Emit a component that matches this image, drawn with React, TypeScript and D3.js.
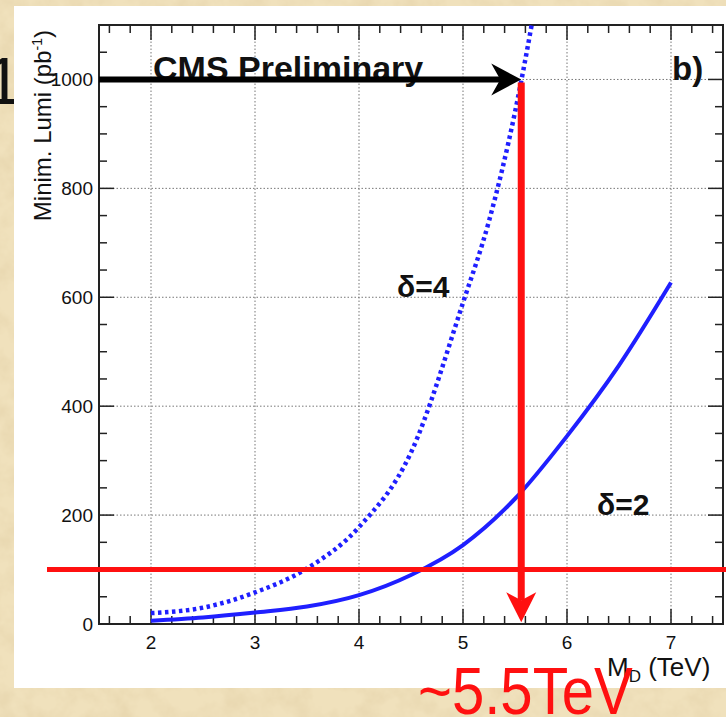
import { useEffect, useRef } from "react";
import * as d3 from "d3";

// delta=2 curve (solid) and delta=4 curve (dotted)
const massD2 = [2, 2.5, 3, 3.5, 4, 4.5, 5, 5.5, 6, 6.5, 7];
const lumiD2 = [6, 12, 21, 32, 53, 90, 145, 230, 345, 475, 627];
const massD4 = [2, 2.5, 3, 3.5, 4, 4.5, 5, 5.25, 5.5, 5.66, 5.75];
const lumiD4 = [20, 30, 58, 102, 178, 315, 590, 740, 940, 1100, 1200];

const xTicks = [2, 3, 4, 5, 6, 7];
const yTicks = [0, 200, 400, 600, 800, 1000];
const limitLumi = 100; // red horizontal line
const reachMass = 5.56; // red vertical arrow
const reachLumi = 1000;

const W = 726;
const H = 717;

const App = () => {
  const svgRef = useRef<SVGSVGElement | null>(null);

  useEffect(() => {
    const svg = d3.select(svgRef.current);
    svg.selectAll("*").remove();

    const x = d3.scaleLinear().domain([1.5, 7.5]).range([99, 723]);
    const y = d3.scaleLinear().domain([0, 1100]).range([624, 25]);
    const [x0, x1] = x.range();
    const [y0, y1] = y.range();
    const font = "'Liberation Sans', Arial, Helvetica, sans-serif";

    // parchment background
    const defs = svg.append("defs");
    const f = defs.append("filter").attr("id", "paper").attr("x", 0).attr("y", 0).attr("width", 1).attr("height", 1);
    f.append("feTurbulence").attr("type", "fractalNoise").attr("baseFrequency", 0.045).attr("numOctaves", 4).attr("seed", 7);
    f.append("feColorMatrix").attr("type", "matrix")
      .attr("values", "0 0 0 0 0.72  0 0 0 0 0.58  0 0 0 0 0.34  0.8 0 0 0 -0.3");
    defs.append("clipPath").attr("id", "plotclip")
      .append("rect").attr("x", x0).attr("y", y1).attr("width", x1 - x0).attr("height", y0 - y1);

    svg.append("rect").attr("width", W).attr("height", H).attr("fill", "#f0e1bc");
    svg.append("rect").attr("width", W).attr("height", H).attr("filter", "url(#paper)");

    // big "1" peeking out behind the panel
    svg.append("text").attr("x", -15).attr("y", 104).attr("font-family", font)
      .attr("font-size", 66).attr("fill", "#111").text("1");

    // white panel
    svg.append("rect").attr("x", 14).attr("y", 6).attr("width", W).attr("height", 682).attr("fill", "#fff");

    const g = svg.append("g");

    // grid
    xTicks.forEach((t) => {
      g.append("line").attr("x1", x(t)).attr("x2", x(t)).attr("y1", y0).attr("y2", y1)
        .attr("stroke", "#777").attr("stroke-width", 1).attr("stroke-dasharray", "1.5 2");
    });
    yTicks.filter((t) => t > 0).forEach((t) => {
      g.append("line").attr("x1", x0).attr("x2", x1).attr("y1", y(t)).attr("y2", y(t))
        .attr("stroke", "#777").attr("stroke-width", 1).attr("stroke-dasharray", "1.5 2");
    });

    // ticks on all four sides (ROOT style, pointing inwards)
    const xMinor = d3.range(1.6, 7.5, 0.2);
    xMinor.forEach((t) => {
      const major = Math.abs(t - Math.round(t)) < 1e-6;
      const len = major ? 15 : 8;
      g.append("line").attr("x1", x(t)).attr("x2", x(t)).attr("y1", y0).attr("y2", y0 - len)
        .attr("stroke", "#222").attr("stroke-width", 1.5);
      g.append("line").attr("x1", x(t)).attr("x2", x(t)).attr("y1", y1).attr("y2", y1 + len)
        .attr("stroke", "#222").attr("stroke-width", 1.5);
    });
    d3.range(50, 1100, 50).forEach((t) => {
      const major = t % 200 === 0;
      const len = major ? 15 : 8;
      g.append("line").attr("x1", x0).attr("x2", x0 + len).attr("y1", y(t)).attr("y2", y(t))
        .attr("stroke", "#222").attr("stroke-width", 1.5);
      g.append("line").attr("x1", x1).attr("x2", x1 - len).attr("y1", y(t)).attr("y2", y(t))
        .attr("stroke", "#222").attr("stroke-width", 1.5);
    });

    // frame
    g.append("rect").attr("x", x0).attr("y", y1).attr("width", x1 - x0).attr("height", y0 - y1)
      .attr("fill", "none").attr("stroke", "#222").attr("stroke-width", 2);

    // tick labels
    xTicks.forEach((t) => {
      g.append("text").attr("x", x(t)).attr("y", 649).attr("text-anchor", "middle")
        .attr("font-family", font).attr("font-size", 19).attr("fill", "#111").text(t);
    });
    yTicks.forEach((t) => {
      g.append("text").attr("x", 93).attr("y", y(t)).attr("dy", "0.36em").attr("text-anchor", "end")
        .attr("font-family", font).attr("font-size", 19).attr("fill", "#111").text(t);
    });

    // axis titles
    const yl = g.append("text").attr("transform", "translate(51,30) rotate(-90)").attr("text-anchor", "end")
      .attr("font-family", font).attr("font-size", 24).attr("fill", "#111");
    yl.append("tspan").text("Minim. Lumi (pb");
    yl.append("tspan").attr("dy", -9).attr("font-size", 14).text("-1");
    yl.append("tspan").attr("dy", 9).text(")");

    const xl = g.append("text").attr("x", 607).attr("y", 676).attr("font-family", font)
      .attr("font-size", 26).attr("fill", "#111");
    xl.append("tspan").text("M");
    xl.append("tspan").attr("dy", 6).attr("font-size", 17).text("D");
    xl.append("tspan").attr("dy", -6).text(" (TeV)");

    // curves
    const line = d3.line<number>().x((d) => x(d)).curve(d3.curveMonotoneX);
    const plot = g.append("g").attr("clip-path", "url(#plotclip)");
    plot.append("path")
      .attr("d", line.y((d, i) => y(lumiD4[i]))(massD4))
      .attr("fill", "none").attr("stroke", "#1f1fff").attr("stroke-width", 4.5)
      .attr("stroke-dasharray", "3.5 3.5");
    plot.append("path")
      .attr("d", line.y((d, i) => y(lumiD2[i]))(massD2))
      .attr("fill", "none").attr("stroke", "#1f1fff").attr("stroke-width", 4);

    // labels
    g.append("text").attr("x", 153).attr("y", 80).attr("font-family", font).attr("font-weight", "bold")
      .attr("font-size", 34).attr("fill", "#111").text("CMS Preliminary");
    g.append("text").attr("x", 672).attr("y", 80).attr("font-family", font).attr("font-weight", "bold")
      .attr("font-size", 33).attr("fill", "#111").text("b)");
    g.append("text").attr("x", 397).attr("y", y(600)).attr("font-family", font).attr("font-weight", "bold")
      .attr("font-size", 30).attr("fill", "#111").text("δ=4");
    g.append("text").attr("x", 597).attr("y", y(200)).attr("font-family", font).attr("font-weight", "bold")
      .attr("font-size", 30).attr("fill", "#111").text("δ=2");

    // red horizontal line at 100 pb^-1
    g.append("line").attr("x1", x(1.0)).attr("x2", W).attr("y1", y(limitLumi)).attr("y2", y(limitLumi))
      .attr("stroke", "#ff1010").attr("stroke-width", 5);

    // black arrow towards the 1000 pb^-1 point
    const tipX = x(reachMass);
    const tipY = y(reachLumi);
    g.append("line").attr("x1", x0).attr("x2", tipX - 20).attr("y1", tipY).attr("y2", tipY)
      .attr("stroke", "#000").attr("stroke-width", 6);
    g.append("path")
      .attr("d", `M${tipX},${tipY} L${tipX - 30},${tipY - 16} L${tipX - 21},${tipY} L${tipX - 30},${tipY + 16} Z`)
      .attr("fill", "#000");

    // red vertical arrow down to the mass axis
    const botY = y(3);
    g.append("line").attr("x1", tipX).attr("x2", tipX).attr("y1", tipY + 3).attr("y2", botY - 22)
      .attr("stroke", "#ff1010").attr("stroke-width", 7);
    g.append("path")
      .attr("d", `M${tipX},${botY} L${tipX - 15},${botY - 30} L${tipX},${botY - 22} L${tipX + 15},${botY - 30} Z`)
      .attr("fill", "#ff1010");

    // big red annotation, slightly condensed like the original
    svg.append("text").attr("transform", "translate(418,714) scale(0.88,1)").attr("font-family", font)
      .attr("font-size", 66).attr("fill", "#ff1010").text("~5.5TeV");
  }, []);

  return (
    <svg ref={svgRef} width={W} height={H} style={{ position: "absolute", left: 0, top: 0 }}></svg>
  );
};

export default App;
